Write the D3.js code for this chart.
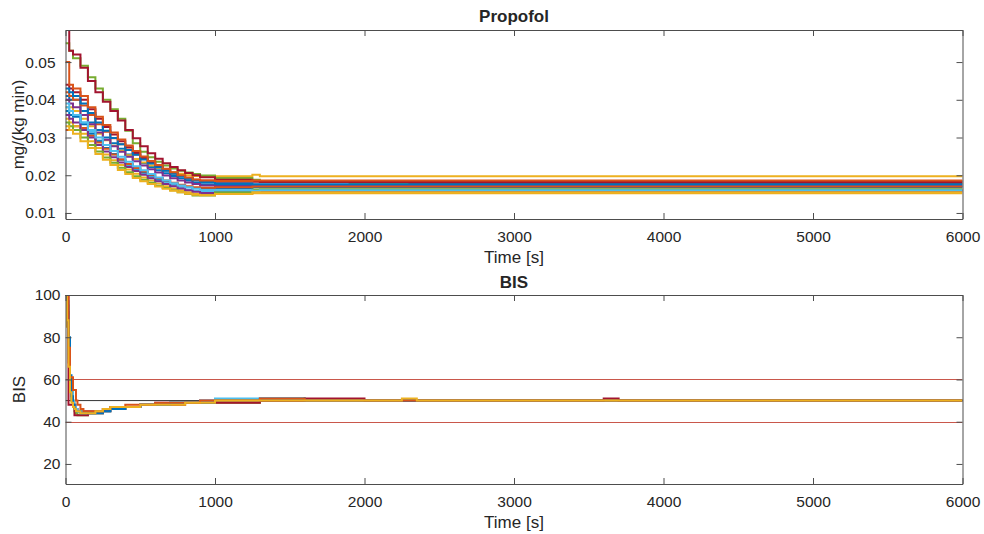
<!DOCTYPE html>
<meta charset="utf-8">
<style>

body {
  margin: 0;
  background: #fff;
}

text {
  font-family: "Liberation Sans", Arial, Helvetica, sans-serif;
  fill: #262626;
}

.axis path,
.axis line {
  stroke: #4d4d4d;
}

.axis text {
  font-size: 15.5px;
  fill: #262626;
}

.trace {
  fill: none;
  stroke-width: 2;
}

</style>
<svg width="984" height="534"></svg>
<script src="https://d3js.org/d3.v7.min.js"></script>
<script>

// time grid of the propofol infusion steps [s]
var timeP = [0, 25, 50, 100, 150, 200, 250, 300, 350, 400, 450, 500, 550, 600, 650,
             700, 750, 800, 850, 900, 1000, 1250, 1300, 1900, 2300, 6000];

// propofol rate per patient, mg/(kg min)
var propofol = [
  [0.041, 0.040, 0.040, 0.037, 0.034, 0.032, 0.030, 0.0285, 0.027, 0.0255, 0.0243, 0.0232, 0.0222, 0.0213, 0.0205, 0.0198, 0.0192, 0.0186, 0.0180, 0.0176, 0.0174, 0.0175, 0.0175, 0.0175, 0.0175, 0.0175],
  [0.042, 0.041, 0.040, 0.0385, 0.036, 0.0335, 0.0315, 0.0298, 0.0282, 0.0268, 0.0255, 0.0243, 0.0232, 0.0222, 0.0213, 0.0205, 0.0199, 0.0193, 0.0188, 0.0186, 0.0185, 0.0185, 0.0185, 0.0185, 0.0185, 0.0185],
  [0.038, 0.038, 0.037, 0.035, 0.033, 0.031, 0.0293, 0.0278, 0.0265, 0.0253, 0.0243, 0.0234, 0.0226, 0.0219, 0.0213, 0.0208, 0.0204, 0.0200, 0.0198, 0.0197, 0.0197, 0.0201, 0.0197, 0.0197, 0.0197, 0.0197],
  [0.040, 0.039, 0.038, 0.036, 0.0335, 0.0313, 0.0294, 0.0277, 0.0262, 0.0249, 0.0237, 0.0226, 0.0216, 0.0207, 0.0199, 0.0192, 0.0186, 0.0181, 0.0177, 0.0173, 0.0171, 0.0171, 0.0171, 0.0171, 0.0171, 0.0171],
  [0.055, 0.053, 0.051, 0.049, 0.046, 0.043, 0.040, 0.0375, 0.035, 0.0318, 0.0285, 0.0262, 0.0248, 0.0236, 0.0226, 0.0218, 0.0212, 0.0207, 0.0203, 0.0199, 0.0193, 0.0188, 0.0182, 0.0178, 0.0178, 0.0178],
  [0.039, 0.037, 0.036, 0.034, 0.0315, 0.0292, 0.0272, 0.0255, 0.024, 0.0227, 0.0215, 0.0204, 0.0195, 0.0187, 0.0179, 0.0173, 0.0167, 0.0162, 0.0158, 0.0157, 0.0158, 0.0160, 0.0160, 0.0160, 0.0160, 0.0160],
  [0.060, 0.053, 0.052, 0.0485, 0.045, 0.042, 0.0395, 0.037, 0.0345, 0.032, 0.0298, 0.0277, 0.0258, 0.0244, 0.0232, 0.0222, 0.0213, 0.0206, 0.0200, 0.0195, 0.0188, 0.0185, 0.0183, 0.0182, 0.0180, 0.0180],
  [0.037, 0.036, 0.0355, 0.0335, 0.031, 0.029, 0.0272, 0.0256, 0.0242, 0.0229, 0.0218, 0.0208, 0.0199, 0.0191, 0.0184, 0.0178, 0.0173, 0.0169, 0.0166, 0.0164, 0.0165, 0.0168, 0.0168, 0.0168, 0.0168, 0.0168],
  [0.032, 0.032, 0.033, 0.0325, 0.0305, 0.0287, 0.027, 0.0255, 0.0242, 0.023, 0.0219, 0.021, 0.0201, 0.0193, 0.0186, 0.018, 0.0175, 0.0171, 0.0168, 0.0167, 0.0168, 0.0170, 0.0170, 0.0170, 0.0170, 0.0170],
  [0.035, 0.034, 0.033, 0.031, 0.029, 0.0272, 0.0255, 0.024, 0.0227, 0.0215, 0.0204, 0.0194, 0.0186, 0.0178, 0.0171, 0.0165, 0.016, 0.0155, 0.0151, 0.015, 0.0151, 0.0152, 0.0152, 0.0152, 0.0152, 0.0152],
  [0.036, 0.035, 0.034, 0.032, 0.030, 0.028, 0.0263, 0.0248, 0.0234, 0.0222, 0.0211, 0.0201, 0.0192, 0.0184, 0.0177, 0.0171, 0.0165, 0.016, 0.0156, 0.0153, 0.0155, 0.0158, 0.0158, 0.0158, 0.0158, 0.0158],
  [0.034, 0.033, 0.032, 0.030, 0.028, 0.0263, 0.0247, 0.0233, 0.022, 0.0208, 0.0197, 0.0188, 0.018, 0.0172, 0.0166, 0.016, 0.0155, 0.015, 0.0146, 0.0146, 0.0155, 0.0162, 0.0163, 0.0163, 0.0163, 0.0163],
  [0.038, 0.037, 0.036, 0.034, 0.032, 0.030, 0.028, 0.0264, 0.0249, 0.0236, 0.0224, 0.0213, 0.0203, 0.0194, 0.0186, 0.0179, 0.0173, 0.0168, 0.0164, 0.0161, 0.016, 0.0159, 0.016, 0.016, 0.016, 0.016],
  [0.044, 0.043, 0.042, 0.040, 0.0375, 0.035, 0.0328, 0.0308, 0.029, 0.0274, 0.0259, 0.0246, 0.0234, 0.0223, 0.0213, 0.0205, 0.0198, 0.0192, 0.0187, 0.0184, 0.0183, 0.0183, 0.0183, 0.0183, 0.0183, 0.0183],
  [0.043, 0.042, 0.041, 0.039, 0.0365, 0.034, 0.0318, 0.0299, 0.0282, 0.0267, 0.0254, 0.0242, 0.0231, 0.0221, 0.0212, 0.0204, 0.0197, 0.0191, 0.0186, 0.0182, 0.0178, 0.0176, 0.0176, 0.0176, 0.0176, 0.0176],
  [0.050, 0.044, 0.043, 0.041, 0.038, 0.0355, 0.0333, 0.0313, 0.0295, 0.0279, 0.0264, 0.025, 0.0238, 0.0227, 0.0217, 0.0208, 0.02, 0.0194, 0.0189, 0.0186, 0.0185, 0.0186, 0.0186, 0.0186, 0.0186, 0.0186],
  [0.033, 0.032, 0.031, 0.029, 0.0272, 0.0256, 0.0241, 0.0227, 0.0214, 0.0203, 0.0193, 0.0184, 0.0177, 0.017, 0.0164, 0.0159, 0.0155, 0.0151, 0.0148, 0.0147, 0.015, 0.0155, 0.0155, 0.0155, 0.0155, 0.0155]
];

// time grid of the BIS samples [s]
var timeB = [0, 10, 20, 30, 40, 50, 60, 70, 80, 100, 120, 150, 200, 250, 300, 400, 500,
             600, 700, 800, 900, 1000, 1300, 1600, 2000, 2250, 2350, 3600, 3700, 6000];

// BIS per patient
var bis = [
  [100, 85, 70, 58, 52, 49, 47, 46, 45, 45, 44, 44, 45, 46, 46, 47, 48, 48, 48, 49, 49, 50, 50, 50, 50, 50, 50, 50, 50, 50],
  [100, 92, 68, 55, 50, 48, 47, 46, 45, 45, 45, 45, 45, 46, 47, 47, 48, 49, 49, 49, 50, 50, 50, 50, 50, 50, 50, 50, 50, 50],
  [100, 95, 72, 57, 50, 47, 45, 44, 43, 43, 43, 44, 44, 45, 46, 47, 48, 48, 49, 49, 49, 49, 50, 50, 50, 50, 50, 50, 50, 50],
  [100, 90, 70, 60, 55, 50, 48, 46, 45, 45, 44, 44, 45, 45, 46, 47, 48, 48, 49, 49, 50, 51, 51, 50, 50, 50, 50, 50, 50, 50],
  [100, 100, 48, 48, 48, 48, 43, 43, 43, 43, 43, 44, 44, 45, 46, 47, 48, 48, 48, 49, 49, 49, 50, 51, 50, 50, 50, 51, 50, 50],
  [100, 97, 80, 62, 52, 48, 46, 45, 45, 44, 44, 44, 44, 45, 46, 47, 48, 48, 49, 49, 49, 50, 51, 50, 50, 50, 50, 50, 50, 50],
  [100, 100, 75, 61, 61, 55, 55, 50, 48, 46, 45, 45, 45, 46, 47, 48, 48, 49, 49, 49, 50, 50, 51, 50, 50, 50, 50, 50, 50, 50],
  [100, 88, 66, 54, 49, 47, 46, 45, 45, 44, 44, 44, 45, 46, 47, 47, 48, 48, 48, 49, 49, 50, 50, 50, 50, 51, 50, 50, 50, 50]
];

var bisTarget = 50,
    bisBounds = [40, 60];

var timeTicks = [0, 1000, 2000, 3000, 4000, 5000, 6000],
    propofolTicks = [0.01, 0.02, 0.03, 0.04, 0.05],
    bisTicks = [20, 40, 60, 80, 100];

var colors = ["#0072BD", "#D95319", "#EDB120", "#7E2F8E", "#77AC30", "#4DBEEE", "#A2142F"];

var svg = d3.select("svg"),
    left = 65.5,
    width = 962.5 - left;

var x = d3.scaleLinear().domain([0, 6000]).range([0, width]);

function panel(id, top, bottom, yDomain, yTicks, yFormat, yPad) {
  var height = bottom - top;
  var y = d3.scaleLinear().domain(yDomain).range([height, 0]);

  var g = svg.append("g")
      .attr("transform", "translate(" + left + "," + top + ")");

  g.append("clipPath")
      .attr("id", id)
    .append("rect")
      .attr("width", width)
      .attr("height", height);

  var plot = g.append("g").attr("clip-path", "url(#" + id + ")");

  g.append("g")
      .attr("class", "axis")
      .attr("transform", "translate(0," + height + ")")
      .call(d3.axisBottom(x).tickValues(timeTicks).tickSize(-6).tickSizeOuter(0)
        .tickPadding(12).tickFormat(d3.format("d")));

  g.append("g")
      .attr("class", "axis")
      .call(d3.axisTop(x).tickValues(timeTicks).tickSize(-6).tickSizeOuter(0).tickFormat(""));

  g.append("g")
      .attr("class", "axis")
      .call(d3.axisLeft(y).tickValues(yTicks).tickSize(-6).tickSizeOuter(0).tickPadding(yPad).tickFormat(yFormat));

  g.append("g")
      .attr("class", "axis")
      .attr("transform", "translate(" + width + ",0)")
      .call(d3.axisRight(y).tickValues(yTicks).tickSize(-6).tickSizeOuter(0).tickFormat(""));

  return {g: g, plot: plot, y: y, height: height};
}

function traces(p, times, runs, offset) {
  var line = d3.line()
      .x(function(d) { return x(d[0]); })
      .y(function(d) { return p.y(d[1]); })
      .curve(d3.curveStepAfter);

  p.plot.selectAll(".trace")
    .data(runs)
    .enter().append("path")
      .attr("class", "trace")
      .attr("stroke", function(d, i) { return colors[(i + offset) % colors.length]; })
      .attr("d", function(d) { return line(d.map(function(v, i) { return [times[i], v]; })); });
}

// Propofol panel
var top1 = panel("clipP", 30, 219, [0.0084, 0.0585], propofolTicks, d3.format(".2f"), 10);
traces(top1, timeP, propofol, 0);

// BIS panel
var bot = panel("clipB", 295, 484, [10.5, 100], bisTicks, d3.format("d"), 5);

bot.plot.append("line")
    .attr("x1", 0)
    .attr("x2", width)
    .attr("y1", bot.y(bisTarget))
    .attr("y2", bot.y(bisTarget))
    .attr("stroke", "#333")
    .attr("stroke-width", 1);

bot.plot.selectAll(".bound")
  .data(bisBounds)
  .enter().append("line")
    .attr("class", "bound")
    .attr("x1", 0)
    .attr("x2", width)
    .attr("y1", function(d) { return Math.round(bot.y(d)) + 0.5; })
    .attr("y2", function(d) { return Math.round(bot.y(d)) + 0.5; })
    .attr("stroke", "#c0392b")
    .attr("stroke-opacity", 0.85)
    .attr("stroke-width", 1);

traces(bot, timeB, bis, 2);

// titles and labels
var cx = left + width / 2;

svg.append("text")
    .attr("x", cx)
    .attr("y", 22)
    .attr("text-anchor", "middle")
    .attr("font-weight", "bold")
    .style("font-size", "17px")
    .text("Propofol");

svg.append("text")
    .attr("x", cx)
    .attr("y", 288)
    .attr("text-anchor", "middle")
    .attr("font-weight", "bold")
    .style("font-size", "17px")
    .text("BIS");

svg.append("text")
    .attr("x", cx)
    .attr("y", 263)
    .attr("text-anchor", "middle")
    .style("font-size", "17px")
    .text("Time [s]");

svg.append("text")
    .attr("x", cx)
    .attr("y", 527.5)
    .attr("text-anchor", "middle")
    .style("font-size", "17px")
    .text("Time [s]");

svg.append("text")
    .attr("transform", "translate(24,124.5) rotate(-90)")
    .attr("text-anchor", "middle")
    .style("font-size", "17px")
    .text("mg/(kg min)");

svg.append("text")
    .attr("transform", "translate(25,389.5) rotate(-90)")
    .attr("text-anchor", "middle")
    .style("font-size", "17px")
    .text("BIS");

</script>
